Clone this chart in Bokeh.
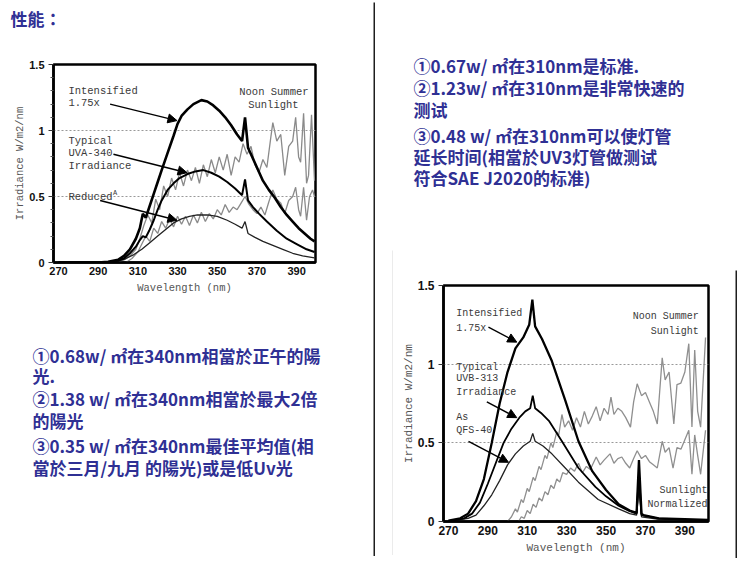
from bokeh.plotting import figure
from bokeh.layouts import row, column
from bokeh.models import Range1d, FixedTicker, Arrow, NormalHead, Label, Spacer
from bokeh.embed import file_html
from bokeh.resources import INLINE
from bokeh.core.properties import value

# ---------------- data ----------------
X_TICKS = [270, 290, 310, 330, 350, 370, 390]
Y_TICKS = [0, 0.5, 1, 1.5]
Y_TICK_LABELS = ["0", "0.5", "1", "1.5"]
Y_MINOR = [0.1, 0.2, 0.3, 0.4, 0.6, 0.7, 0.8, 0.9, 1.1, 1.2, 1.3, 1.4]

# Left chart (UVA-340)
L_int_x = [270, 280, 290, 295, 300, 303, 306, 309, 311, 312.5, 314, 316, 318, 320, 322, 325, 328, 330, 332, 335,
           338, 342, 345, 348, 351, 354, 357, 360, 362.5, 364, 365.5, 367, 370, 373, 376, 379, 382, 385, 388, 391,
           394, 397, 399]
L_int_y = [0, 0, 0, 0.005, 0.02, 0.05, 0.10, 0.18, 0.26, 0.37, 0.34, 0.43, 0.52, 0.61, 0.70, 0.83, 0.96, 1.05, 1.11, 1.16,
           1.20, 1.23, 1.22, 1.19, 1.15, 1.10, 1.04, 0.97, 0.92, 1.10, 0.87, 0.82, 0.72, 0.62, 0.55, 0.49, 0.42, 0.36, 0.31, 0.26,
           0.22, 0.18, 0.16]
L_typ_x = [270, 290, 296, 300, 303, 306, 309, 311, 312.5, 314, 316, 318, 320, 322, 325, 328, 331, 335, 339, 343,
           347, 351, 355, 359, 362.5, 364, 365.5, 368, 371, 375, 380, 385, 390, 395, 399]
L_typ_y = [0, 0, 0.005, 0.015, 0.03, 0.07, 0.12, 0.17, 0.20, 0.19, 0.25, 0.32, 0.40, 0.47, 0.55, 0.60, 0.64, 0.67, 0.69, 0.70,
           0.68, 0.65, 0.61, 0.56, 0.51, 0.63, 0.47, 0.42, 0.37, 0.31, 0.24, 0.18, 0.14, 0.10, 0.08]
L_red_x = [270, 296, 300, 304, 308, 312, 316, 320, 324, 328, 332, 336, 340, 345, 350, 355, 359, 362.5, 364, 365.5,
           369, 373, 378, 383, 388, 393, 399]
L_red_y = [0, 0.005, 0.01, 0.03, 0.06, 0.10, 0.15, 0.20, 0.25, 0.30, 0.33, 0.35, 0.36, 0.36, 0.35, 0.32, 0.29, 0.26, 0.31, 0.22,
           0.19, 0.16, 0.13, 0.10, 0.07, 0.05, 0.035]
L_sun_x = [300, 303, 306, 309, 311, 313, 315, 317, 319, 321, 323, 325, 327, 329, 331, 333, 335, 337, 339, 341,
           343, 345, 347, 349, 351, 353, 355, 357, 359, 361, 363, 365, 367, 369, 371, 373, 375, 377, 378, 380,
           382, 384, 386, 388, 389.5, 391, 392, 393.5, 395, 396, 397.5, 399]
L_sun_y = [0.0, 0.02, 0.05, 0.10, 0.18, 0.28, 0.36, 0.30, 0.48, 0.40, 0.58, 0.50, 0.64, 0.55, 0.68, 0.58, 0.70, 0.62, 0.72, 0.60,
           0.74, 0.65, 0.78, 0.68, 0.80, 0.70, 0.82, 0.66, 0.80, 0.76, 0.90, 0.82, 0.88, 0.74, 0.68, 0.78, 0.72, 0.95, 1.06, 0.92,
           0.97, 0.66, 0.88, 0.92, 1.10, 0.80, 0.76, 1.13, 0.60, 0.66, 1.12, 0.62]
L_sun2_x = [304, 307, 310, 312, 314, 316, 318, 320, 322, 324, 326, 328, 330, 332, 334, 336, 338, 340, 342, 344,
            346, 348, 350, 352, 354, 356, 358, 360, 362, 364, 366, 368, 370, 372, 374, 376, 378, 380, 382, 384,
            386, 388, 389.5, 391, 392, 393.5, 395, 396.5, 398, 399]
L_sun2_y = [0.0, 0.03, 0.08, 0.14, 0.20, 0.16, 0.26, 0.22, 0.31, 0.26, 0.33, 0.27, 0.35, 0.29, 0.35, 0.28, 0.36, 0.30, 0.38, 0.31,
            0.37, 0.33, 0.40, 0.36, 0.44, 0.38, 0.42, 0.40, 0.45, 0.50, 0.44, 0.40, 0.37, 0.42, 0.36, 0.46, 0.55, 0.48, 0.45, 0.37,
            0.47, 0.50, 0.57, 0.40, 0.35, 0.57, 0.32, 0.50, 0.55, 0.50]

# Right chart (UVB-313)
R_int_x = [270, 276, 280, 284, 288, 292, 296, 300, 304, 308, 311, 312.6, 314, 317.5, 322.5, 329.3, 336, 343, 350, 356.4,
           362, 365.5, 366.7, 368, 369, 376.8, 390, 402]
R_int_y = [0.005, 0.02, 0.05, 0.13, 0.27, 0.50, 0.75, 0.95, 1.10, 1.17, 1.25, 1.41, 1.24, 1.16, 1.02, 0.77, 0.51, 0.32, 0.20, 0.11,
           0.07, 0.055, 0.39, 0.05, 0.04, 0.02, 0.015, 0.01]
R_typ_x = [270, 278, 282, 286, 290, 294, 298, 302, 306, 309, 311.5, 312.8, 314, 317, 321, 327.6, 336, 344.6, 350, 356.4,
           362, 365.5, 366.7, 368, 376, 390, 402]
R_typ_y = [0.0, 0.02, 0.05, 0.12, 0.24, 0.37, 0.50, 0.59, 0.66, 0.70, 0.72, 0.80, 0.72, 0.69, 0.64, 0.51, 0.34, 0.22, 0.16, 0.10,
           0.065, 0.05, 0.30, 0.04, 0.02, 0.012, 0.01]
R_red_x = [270, 280, 284, 288, 292, 296, 300, 304, 308, 311.5, 312.8, 314, 318, 322.5, 329.3, 336, 346, 356.4, 362, 365.5,
           366.7, 368, 376, 390, 402]
R_red_y = [0.0, 0.02, 0.04, 0.10, 0.17, 0.26, 0.36, 0.43, 0.48, 0.51, 0.56, 0.51, 0.48, 0.43, 0.34, 0.25, 0.14, 0.08, 0.05, 0.04,
           0.20, 0.03, 0.015, 0.01, 0.008]
R_sun_x = [300, 302, 304, 305, 307, 308, 310, 311, 313, 314, 316, 317, 319, 320, 322, 323, 325, 326, 327.6, 329,
           331, 333, 335, 337, 339, 341, 343, 345, 347, 349, 351, 352.5, 354, 356, 358, 360, 362.4, 364, 365.8, 368,
           370, 372, 374, 376, 378.5, 380, 382, 384.4, 386, 388, 390, 392, 393.6, 395, 396.5, 398, 400.5]
R_sun_y = [0.0, 0.03, 0.08, 0.06, 0.14, 0.12, 0.21, 0.19, 0.28, 0.26, 0.35, 0.33, 0.42, 0.40, 0.50, 0.47, 0.57, 0.55, 0.68, 0.60,
           0.64, 0.58, 0.66, 0.60, 0.70, 0.62, 0.67, 0.73, 0.64, 0.72, 0.68, 0.79, 0.68, 0.72, 0.70, 0.66, 0.60, 0.76, 0.875, 0.80,
           0.82, 0.76, 0.70, 0.62, 1.04, 0.90, 0.95, 0.62, 0.87, 0.88, 0.95, 1.13, 0.60, 1.09, 0.70, 0.60, 1.17]
R_sun2_x = [305.6, 307, 308.5, 310, 311.5, 313, 314.5, 316, 317.5, 319, 320.5, 322, 323.5, 325, 326.5, 328, 330, 332, 334, 336,
            338, 340, 342, 345, 347, 349, 352, 354, 356, 358, 360, 362, 364, 365.8, 368, 370, 372, 374, 376, 378.5,
            380, 382, 384, 386, 388, 390, 392, 393.6, 395, 396.5, 398, 400.5]
R_sun2_y = [0.0, 0.03, 0.02, 0.07, 0.05, 0.11, 0.09, 0.15, 0.13, 0.19, 0.17, 0.23, 0.21, 0.27, 0.25, 0.31, 0.30, 0.34, 0.32, 0.37,
            0.31, 0.35, 0.33, 0.41, 0.36, 0.39, 0.43, 0.37, 0.40, 0.41, 0.37, 0.34, 0.40, 0.45, 0.40, 0.42, 0.38, 0.36, 0.34, 0.51,
            0.44, 0.47, 0.34, 0.47, 0.46, 0.52, 0.58, 0.30, 0.55, 0.42, 0.30, 0.58]

TITLE = "性能："
LEFT_TEXT = [
    "①0.68w/ ㎡在340nm相當於正午的陽",
    "光.",
    "②1.38 w/ ㎡在340nm相當於最大2倍",
    "的陽光",
    "③0.35 w/ ㎡在340nm最佳平均值(相",
    "當於三月/九月 的陽光)或是低Uv光",
]
RIGHT_TEXT = [
    "①0.67w/ ㎡在310nm是标准.",
    "②1.23w/ ㎡在310nm是非常快速的",
    "测试",
    "③0.48 w/ ㎡在310nm可以使灯管",
    "延长时间(相當於UV3灯管做测试",
    "符合SAE J2020的标准)",
]

NAVY = "#2f3094"
MONO = "Liberation Mono"


def blank_fig(w, h, bg="white"):
    p = figure(width=w, height=h, x_range=Range1d(0, w), y_range=Range1d(h, 0),
               x_axis_location=None, y_axis_location=None,
               toolbar_location=None, output_backend="svg", min_border=0,
               background_fill_color=bg, border_fill_color=bg, outline_line_color=None)
    p.grid.visible = False
    return p


def text_fig(w, h, lines, xs, ys, font, size):
    p = blank_fig(w, h)
    p.text(x=xs, y=ys, text=lines, text_font=value(font), text_font_size=size,
           text_font_style="bold", text_color=NAVY, text_baseline="middle", text_align="left")
    return p


def chart(w, h, xr, borders, tick_size, lab_size, minor):
    p = figure(width=w, height=h, x_range=Range1d(*xr), y_range=Range1d(0, 1.5),
               toolbar_location=None, output_backend="svg",
               min_border_left=borders[0], min_border_right=borders[1],
               min_border_top=borders[2], min_border_bottom=borders[3])
    p.outline_line_color = "black"
    p.outline_line_width = 2.5
    p.xaxis.ticker = FixedTicker(ticks=X_TICKS)
    p.yaxis.ticker = FixedTicker(ticks=Y_TICKS, minor_ticks=Y_MINOR if minor else [])
    p.yaxis.major_label_overrides = dict(zip(Y_TICKS, Y_TICK_LABELS))
    for ax in (p.xaxis, p.yaxis):
        ax.axis_line_color = "black"
        ax.axis_line_width = 2.5
        ax.major_label_text_font = "Liberation Sans"
        ax.major_label_text_font_style = "bold"
        ax.major_label_text_font_size = tick_size
        ax.major_label_text_color = "#111"
        ax.axis_label_text_font = MONO
        ax.axis_label_text_font_style = "normal"
        ax.axis_label_text_font_size = lab_size
        ax.axis_label_text_color = "#555"
        ax.major_tick_in = 0
        ax.minor_tick_in = 0
        ax.major_tick_line_color = "#333"
        ax.minor_tick_line_color = "#555"
    p.xaxis.major_tick_out = 0
    p.xaxis.minor_tick_out = 0
    p.xaxis.major_label_standoff = 4
    p.xaxis.axis_label_standoff = 4
    p.yaxis.major_tick_out = 5
    p.yaxis.minor_tick_out = 3
    p.yaxis.major_label_standoff = 4
    p.yaxis.axis_label_standoff = 0
    p.xaxis.axis_label = "Wavelength (nm)"
    p.yaxis.axis_label = "Irradiance W/m2/nm"
    p.xgrid.visible = False
    p.ygrid.ticker = FixedTicker(ticks=[0.5, 1.0])
    p.ygrid.grid_line_color = "#999999"
    p.ygrid.grid_line_dash = "2 2"
    p.ygrid.grid_line_width = 1
    return p


def note(p, x, y, t, size="10.5px", align="left"):
    p.add_layout(Label(x=x, y=y, text=t, text_font=MONO, text_font_size=size,
                       text_color="#3a3a3a", text_baseline="middle", text_align=align))


def arrow(p, x0, y0, x1, y1):
    p.add_layout(Arrow(end=NormalHead(size=9, fill_color="black", line_color="black"),
                       x_start=x0, y_start=y0, x_end=x1, y_end=y1,
                       line_color="black", line_width=1.4))


# ---------------- left column ----------------
title_fig = text_fig(373, 50, [TITLE], [10], [18], "Noto Sans CJK TC", "17px")

p1 = chart(373, 250, (267.5, 399.5), (53, 58, 14, 38), "11px", "10.5px", True)
p1.line(L_sun_x, L_sun_y, line_color="#8a8a8a", line_width=1.3)
p1.line(L_sun2_x, L_sun2_y, line_color="#8a8a8a", line_width=1.3)
p1.line(L_red_x, L_red_y, line_color="#222", line_width=1.3)
p1.line(L_typ_x, L_typ_y, line_color="black", line_width=2)
p1.line(L_int_x, L_int_y, line_color="black", line_width=2.6)
note(p1, 275, 1.30, "Intensified")
note(p1, 275, 1.21, "1.75x")
note(p1, 396, 1.29, "Noon Summer", align="right")
note(p1, 391, 1.19, "Sunlight", align="right")
note(p1, 275, 0.92, "Typical")
note(p1, 275, 0.83, "UVA-340")
note(p1, 275, 0.73, "Irradiance")
note(p1, 275, 0.50, "Reduced")
note(p1, 297.5, 0.53, "A", size="7px")
arrow(p1, 296, 1.20, 329.7, 1.075)
arrow(p1, 297.7, 0.82, 334.8, 0.68)
arrow(p1, 291, 0.47, 329.7, 0.32)

ys_left = [55, 75, 98, 120, 145, 167]
text_left = text_fig(373, 260, LEFT_TEXT, [32] * 6, ys_left, "Noto Sans CJK TC", "17px")

left_col = column(title_fig, row(p1), text_left)

# ---------------- divider ----------------
divider = column(Spacer(width=2, height=2), blank_fig(2, 554, bg="#1e1e1e"))

# ---------------- right column ----------------
ys_right = [65, 87, 109, 135, 156, 177]
text_right = text_fig(370, 250, RIGHT_TEXT, [38] * 6, ys_right, "Noto Sans CJK SC", "17px")

p2 = chart(342, 310, (267.5, 402), (50, 27, 35, 39), "12px", "11px", False)
p2.line(R_sun_x, R_sun_y, line_color="#8f8f8f", line_width=1.3)
p2.line(R_sun2_x, R_sun2_y, line_color="#8f8f8f", line_width=1.3)
p2.line(R_red_x, R_red_y, line_color="#222", line_width=1.3)
p2.line(R_typ_x, R_typ_y, line_color="black", line_width=1.8)
p2.line(R_int_x, R_int_y, line_color="black", line_width=2.3)
note(p2, 274, 1.32, "Intensified", size="10px")
note(p2, 274, 1.225, "1.75x", size="10px")
note(p2, 397, 1.30, "Noon Summer", size="10px", align="right")
note(p2, 397, 1.21, "Sunlight", size="10px", align="right")
note(p2, 274, 0.98, "Typical", size="10px")
note(p2, 274, 0.906, "UVB-313", size="10px")
note(p2, 274, 0.82, "Irradiance", size="10px")
note(p2, 274, 0.66, "As", size="10px")
note(p2, 274, 0.58, "QFS-40", size="10px")
note(p2, 401.5, 0.195, "Sunlight", size="10px", align="right")
note(p2, 401.5, 0.11, "Normalized", size="10px", align="right")
arrow(p2, 290.3, 1.235, 304.7, 1.14)
arrow(p2, 289.5, 0.76, 304.7, 0.66)
arrow(p2, 280.2, 0.51, 300.5, 0.376)

gray_edge = column(blank_fig(1, 305, bg="#d8d8d8"))
black_edge = column(Spacer(width=2, height=20), blank_fig(2, 288, bg="#1e1e1e"))

chart_row = row(Spacer(width=17, height=310), gray_edge, row(p2), black_edge, Spacer(width=8, height=310))
right_col = column(text_right, chart_row)

layout = row(left_col, divider, right_col)

open("out.html", "w").write(file_html(layout, INLINE))
